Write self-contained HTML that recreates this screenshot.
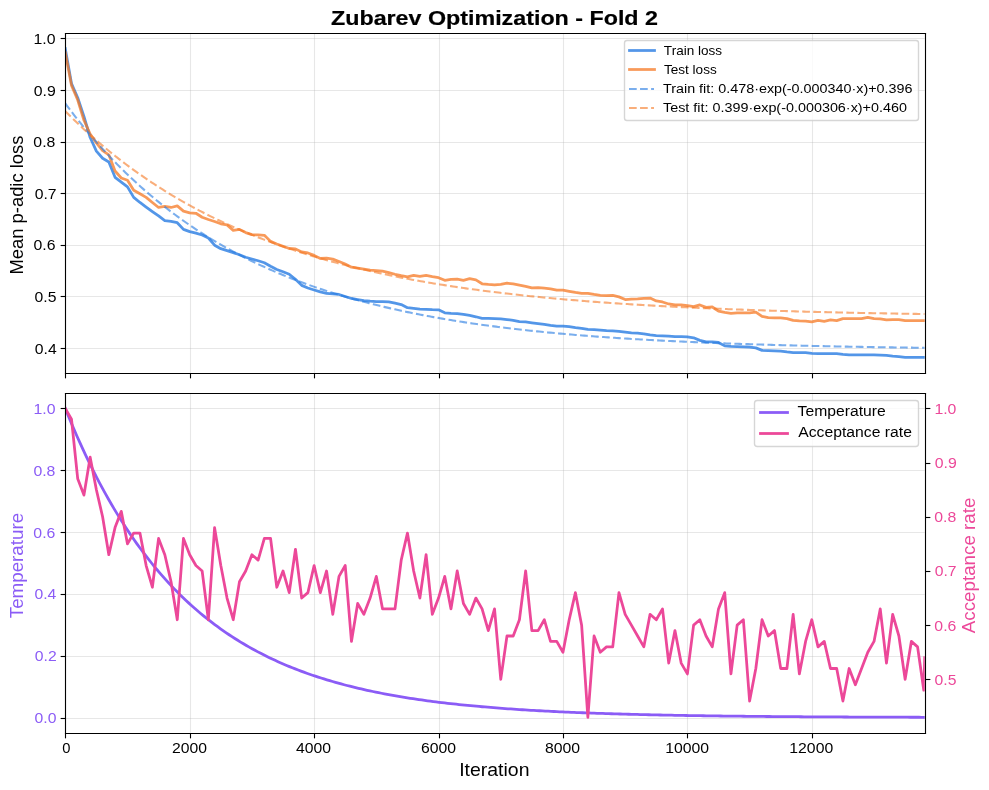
<!DOCTYPE html>
<html><head><meta charset="utf-8"><title>Zubarev Optimization - Fold 2</title>
<style>
html,body{margin:0;padding:0;background:#fff;}
body{width:989px;height:790px;overflow:hidden;}
svg{display:block;will-change:transform;font-family:"Liberation Sans",sans-serif;}
</style></head><body>
<svg width="989" height="790" viewBox="0 0 989 790">
<defs><clipPath id="c1"><rect x="65.278" y="33.333" width="859.444" height="339.764"/></clipPath><clipPath id="c2"><rect x="65.278" y="392.958" width="859.444" height="339.764"/></clipPath></defs>
<rect x="0" y="0" width="989" height="790" fill="#fff"/>
<line x1="65.50" y1="33.33" x2="65.50" y2="373.10" stroke="rgb(176,176,176)" stroke-width="1.11" stroke-opacity="0.300"/>
<line x1="190.50" y1="33.33" x2="190.50" y2="373.10" stroke="rgb(176,176,176)" stroke-width="1.11" stroke-opacity="0.300"/>
<line x1="314.50" y1="33.33" x2="314.50" y2="373.10" stroke="rgb(176,176,176)" stroke-width="1.11" stroke-opacity="0.300"/>
<line x1="439.50" y1="33.33" x2="439.50" y2="373.10" stroke="rgb(176,176,176)" stroke-width="1.11" stroke-opacity="0.300"/>
<line x1="563.50" y1="33.33" x2="563.50" y2="373.10" stroke="rgb(176,176,176)" stroke-width="1.11" stroke-opacity="0.300"/>
<line x1="687.50" y1="33.33" x2="687.50" y2="373.10" stroke="rgb(176,176,176)" stroke-width="1.11" stroke-opacity="0.300"/>
<line x1="812.50" y1="33.33" x2="812.50" y2="373.10" stroke="rgb(176,176,176)" stroke-width="1.11" stroke-opacity="0.300"/>
<line x1="65.28" y1="348.50" x2="924.72" y2="348.50" stroke="rgb(176,176,176)" stroke-width="1.11" stroke-opacity="0.300"/>
<line x1="65.28" y1="296.50" x2="924.72" y2="296.50" stroke="rgb(176,176,176)" stroke-width="1.11" stroke-opacity="0.300"/>
<line x1="65.28" y1="245.50" x2="924.72" y2="245.50" stroke="rgb(176,176,176)" stroke-width="1.11" stroke-opacity="0.300"/>
<line x1="65.28" y1="193.50" x2="924.72" y2="193.50" stroke="rgb(176,176,176)" stroke-width="1.11" stroke-opacity="0.300"/>
<line x1="65.28" y1="142.50" x2="924.72" y2="142.50" stroke="rgb(176,176,176)" stroke-width="1.11" stroke-opacity="0.300"/>
<line x1="65.28" y1="90.50" x2="924.72" y2="90.50" stroke="rgb(176,176,176)" stroke-width="1.11" stroke-opacity="0.300"/>
<line x1="65.28" y1="38.50" x2="924.72" y2="38.50" stroke="rgb(176,176,176)" stroke-width="1.11" stroke-opacity="0.300"/>
<line x1="65.50" y1="392.96" x2="65.50" y2="732.72" stroke="rgb(176,176,176)" stroke-width="1.11" stroke-opacity="0.300"/>
<line x1="190.50" y1="392.96" x2="190.50" y2="732.72" stroke="rgb(176,176,176)" stroke-width="1.11" stroke-opacity="0.300"/>
<line x1="314.50" y1="392.96" x2="314.50" y2="732.72" stroke="rgb(176,176,176)" stroke-width="1.11" stroke-opacity="0.300"/>
<line x1="439.50" y1="392.96" x2="439.50" y2="732.72" stroke="rgb(176,176,176)" stroke-width="1.11" stroke-opacity="0.300"/>
<line x1="563.50" y1="392.96" x2="563.50" y2="732.72" stroke="rgb(176,176,176)" stroke-width="1.11" stroke-opacity="0.300"/>
<line x1="687.50" y1="392.96" x2="687.50" y2="732.72" stroke="rgb(176,176,176)" stroke-width="1.11" stroke-opacity="0.300"/>
<line x1="812.50" y1="392.96" x2="812.50" y2="732.72" stroke="rgb(176,176,176)" stroke-width="1.11" stroke-opacity="0.300"/>
<line x1="65.28" y1="718.50" x2="924.72" y2="718.50" stroke="rgb(176,176,176)" stroke-width="1.11" stroke-opacity="0.300"/>
<line x1="65.28" y1="656.50" x2="924.72" y2="656.50" stroke="rgb(176,176,176)" stroke-width="1.11" stroke-opacity="0.300"/>
<line x1="65.28" y1="594.50" x2="924.72" y2="594.50" stroke="rgb(176,176,176)" stroke-width="1.11" stroke-opacity="0.300"/>
<line x1="65.28" y1="532.50" x2="924.72" y2="532.50" stroke="rgb(176,176,176)" stroke-width="1.11" stroke-opacity="0.300"/>
<line x1="65.28" y1="470.50" x2="924.72" y2="470.50" stroke="rgb(176,176,176)" stroke-width="1.11" stroke-opacity="0.300"/>
<line x1="65.28" y1="408.50" x2="924.72" y2="408.50" stroke="rgb(176,176,176)" stroke-width="1.11" stroke-opacity="0.300"/>
<polyline points="65.28,48.70 71.50,83.50 77.72,97.70 83.94,116.49 90.16,137.49 96.38,151.19 102.60,158.29 108.83,161.99 115.05,177.29 121.27,182.19 127.49,186.89 133.71,197.39 139.93,202.49 146.15,207.08 152.37,211.58 158.59,215.98 164.82,220.68 171.04,221.28 177.26,222.68 183.48,229.38 189.70,231.58 195.92,233.08 202.14,234.98 208.36,237.98 214.58,245.18 220.81,248.68 227.03,250.68 233.25,252.58 239.47,254.78 245.69,257.28 251.91,258.98 258.13,260.78 264.35,262.78 270.57,266.28 276.80,269.48 283.02,271.78 289.24,274.28 295.46,279.28 301.68,285.38 307.90,287.98 314.12,289.98 320.34,291.88 326.56,293.48 332.78,293.88 339.01,294.48 345.23,296.48 351.45,298.48 357.67,299.58 363.89,300.57 370.11,301.17 376.33,301.57 382.55,301.57 388.77,301.97 395.00,303.17 401.22,304.57 407.44,307.67 413.66,308.27 419.88,309.07 426.10,309.27 432.32,309.67 438.54,309.87 444.76,312.87 450.99,313.47 457.21,313.67 463.43,314.47 469.65,315.47 475.87,316.77 482.09,318.37 488.31,318.37 494.53,318.57 500.75,318.77 506.98,319.57 513.20,320.37 519.42,321.57 525.64,321.97 531.86,322.77 538.08,323.57 544.30,324.47 550.52,325.47 556.74,326.07 562.97,326.07 569.19,326.67 575.41,327.67 581.63,328.27 587.85,329.47 594.07,329.67 600.29,330.07 606.51,330.67 612.73,330.87 618.96,331.27 625.18,332.07 631.40,332.87 637.62,333.17 643.84,333.77 650.06,334.97 656.28,335.57 662.50,335.77 668.72,336.17 674.95,336.57 681.17,336.57 687.39,336.97 693.61,337.77 699.83,340.37 706.05,341.87 712.27,341.87 718.49,342.47 724.71,345.87 730.94,346.47 737.16,346.67 743.38,346.87 749.60,347.07 755.82,347.87 762.04,350.37 768.26,350.57 774.48,350.77 780.70,351.17 786.92,351.97 793.15,352.57 799.37,352.57 805.59,352.57 811.81,353.27 818.03,353.57 824.25,353.67 830.47,353.67 836.69,353.67 842.91,354.37 849.14,354.77 855.36,354.97 861.58,354.97 867.80,354.97 874.02,354.97 880.24,355.17 886.46,355.37 892.68,356.17 898.90,356.57 905.13,357.27 911.35,357.27 917.57,357.37 923.79,357.37 924.72,357.37" fill="none" stroke="rgb(40,124,226)" stroke-width="2.778" stroke-opacity="0.800" stroke-linejoin="round" stroke-linecap="square" clip-path="url(#c1)"/>
<polyline points="65.28,52.50 71.50,85.40 77.72,100.00 83.94,120.29 90.16,133.99 96.38,142.99 102.60,150.69 108.83,154.79 115.05,170.99 121.27,177.99 127.49,180.19 133.71,190.29 139.93,193.79 146.15,197.39 152.37,202.49 158.59,207.48 164.82,206.48 171.04,207.48 177.26,205.88 183.48,211.18 189.70,212.88 195.92,213.28 202.14,217.28 208.36,219.48 214.58,221.48 220.81,223.78 227.03,224.98 233.25,230.38 239.47,229.38 245.69,232.58 251.91,234.68 258.13,234.98 264.35,235.28 270.57,241.38 276.80,243.98 283.02,246.28 289.24,248.48 295.46,248.88 301.68,251.98 307.90,252.98 314.12,255.38 320.34,258.48 326.56,258.08 332.78,259.08 339.01,261.48 345.23,264.08 351.45,267.18 357.67,268.18 363.89,269.18 370.11,270.18 376.33,270.58 382.55,271.18 388.77,272.58 395.00,274.28 401.22,275.68 407.44,276.88 413.66,275.28 419.88,276.28 426.10,275.48 432.32,276.68 438.54,277.68 444.76,280.28 450.99,279.28 457.21,279.08 463.43,280.28 469.65,278.68 475.87,279.88 482.09,283.78 488.31,284.38 494.53,284.78 500.75,284.38 506.98,283.18 513.20,283.98 519.42,285.18 525.64,286.38 531.86,287.78 538.08,287.58 544.30,288.18 550.52,288.78 556.74,290.18 562.97,290.18 569.19,291.28 575.41,292.48 581.63,293.28 587.85,293.28 594.07,294.48 600.29,295.28 606.51,295.68 612.73,295.48 618.96,296.88 625.18,299.58 631.40,299.18 637.62,298.88 643.84,298.28 650.06,298.08 656.28,300.97 662.50,301.97 668.72,303.97 674.95,304.97 681.17,304.97 687.39,305.57 693.61,306.57 699.83,304.97 706.05,307.37 712.27,306.97 718.49,311.07 724.71,312.47 730.94,313.27 737.16,312.87 743.38,312.87 749.60,312.87 755.82,312.07 762.04,316.37 768.26,317.57 774.48,317.97 780.70,317.97 786.92,318.57 793.15,320.37 799.37,320.97 805.59,321.17 811.81,321.77 818.03,320.37 824.25,321.27 830.47,319.97 836.69,320.57 842.91,318.57 849.14,318.57 855.36,318.57 861.58,318.57 867.80,317.27 874.02,318.57 880.24,318.87 886.46,319.97 892.68,319.67 898.90,319.67 905.13,320.67 911.35,320.67 917.57,320.67 923.79,320.67 924.72,320.67" fill="none" stroke="rgb(245,120,35)" stroke-width="2.778" stroke-opacity="0.750" stroke-linejoin="round" stroke-linecap="square" clip-path="url(#c1)"/>
<polyline points="65.28,103.42 67.43,106.31 69.59,109.16 71.74,111.98 73.89,114.77 76.05,117.52 78.20,120.24 80.36,122.93 82.51,125.59 84.66,128.22 86.82,130.81 88.97,133.38 91.13,135.91 93.28,138.42 95.43,140.90 97.59,143.35 99.74,145.77 101.90,148.16 104.05,150.52 106.20,152.85 108.36,155.16 110.51,157.44 112.67,159.70 114.82,161.93 116.97,164.13 119.13,166.30 121.28,168.45 123.44,170.58 125.59,172.68 127.74,174.76 129.90,176.81 132.05,178.84 134.21,180.84 136.36,182.82 138.51,184.78 140.67,186.71 142.82,188.62 144.98,190.51 147.13,192.38 149.28,194.23 151.44,196.05 153.59,197.85 155.75,199.63 157.90,201.40 160.05,203.13 162.21,204.85 164.36,206.55 166.52,208.23 168.67,209.89 170.82,211.53 172.98,213.16 175.13,214.76 177.29,216.34 179.44,217.91 181.59,219.45 183.75,220.98 185.90,222.49 188.06,223.99 190.21,225.46 192.36,226.92 194.52,228.36 196.67,229.79 198.83,231.19 200.98,232.58 203.13,233.96 205.29,235.32 207.44,236.66 209.60,237.99 211.75,239.30 213.90,240.60 216.06,241.88 218.21,243.14 220.37,244.40 222.52,245.63 224.67,246.85 226.83,248.06 228.98,249.26 231.14,250.44 233.29,251.60 235.44,252.75 237.60,253.89 239.75,255.02 241.91,256.13 244.06,257.23 246.21,258.32 248.37,259.39 250.52,260.45 252.68,261.50 254.83,262.54 256.98,263.56 259.14,264.57 261.29,265.57 263.45,266.56 265.60,267.54 267.75,268.51 269.91,269.46 272.06,270.40 274.22,271.34 276.37,272.26 278.52,273.17 280.68,274.07 282.83,274.96 284.99,275.84 287.14,276.71 289.29,277.57 291.45,278.41 293.60,279.25 295.76,280.08 297.91,280.90 300.06,281.71 302.22,282.51 304.37,283.30 306.53,284.08 308.68,284.85 310.83,285.62 312.99,286.37 315.14,287.12 317.30,287.85 319.45,288.58 321.60,289.30 323.76,290.01 325.91,290.72 328.07,291.41 330.22,292.10 332.37,292.78 334.53,293.45 336.68,294.11 338.84,294.76 340.99,295.41 343.14,296.05 345.30,296.68 347.45,297.31 349.61,297.93 351.76,298.54 353.91,299.14 356.07,299.73 358.22,300.32 360.38,300.91 362.53,301.48 364.68,302.05 366.84,302.61 368.99,303.17 371.15,303.72 373.30,304.26 375.45,304.79 377.61,305.32 379.76,305.85 381.92,306.37 384.07,306.88 386.22,307.38 388.38,307.88 390.53,308.38 392.69,308.86 394.84,309.35 396.99,309.82 399.15,310.29 401.30,310.76 403.46,311.22 405.61,311.67 407.76,312.12 409.92,312.57 412.07,313.01 414.23,313.44 416.38,313.87 418.53,314.29 420.69,314.71 422.84,315.13 425.00,315.53 427.15,315.94 429.30,316.34 431.46,316.73 433.61,317.12 435.77,317.51 437.92,317.89 440.07,318.27 442.23,318.64 444.38,319.01 446.54,319.37 448.69,319.73 450.84,320.08 453.00,320.44 455.15,320.78 457.31,321.12 459.46,321.46 461.61,321.80 463.77,322.13 465.92,322.46 468.08,322.78 470.23,323.10 472.38,323.41 474.54,323.73 476.69,324.03 478.85,324.34 481.00,324.64 483.15,324.94 485.31,325.23 487.46,325.52 489.62,325.81 491.77,326.09 493.92,326.37 496.08,326.65 498.23,326.93 500.38,327.20 502.54,327.46 504.69,327.73 506.85,327.99 509.00,328.25 511.15,328.50 513.31,328.76 515.46,329.01 517.62,329.25 519.77,329.50 521.92,329.74 524.08,329.98 526.23,330.21 528.39,330.44 530.54,330.67 532.69,330.90 534.85,331.12 537.00,331.35 539.16,331.57 541.31,331.78 543.46,332.00 545.62,332.21 547.77,332.42 549.93,332.62 552.08,332.83 554.23,333.03 556.39,333.23 558.54,333.43 560.70,333.62 562.85,333.81 565.00,334.00 567.16,334.19 569.31,334.38 571.47,334.56 573.62,334.74 575.77,334.92 577.93,335.10 580.08,335.27 582.24,335.45 584.39,335.62 586.54,335.79 588.70,335.95 590.85,336.12 593.01,336.28 595.16,336.44 597.31,336.60 599.47,336.76 601.62,336.92 603.78,337.07 605.93,337.22 608.08,337.37 610.24,337.52 612.39,337.67 614.55,337.81 616.70,337.96 618.85,338.10 621.01,338.24 623.16,338.38 625.32,338.51 627.47,338.65 629.62,338.78 631.78,338.92 633.93,339.05 636.09,339.18 638.24,339.30 640.39,339.43 642.55,339.55 644.70,339.68 646.86,339.80 649.01,339.92 651.16,340.04 653.32,340.15 655.47,340.27 657.63,340.39 659.78,340.50 661.93,340.61 664.09,340.72 666.24,340.83 668.40,340.94 670.55,341.05 672.70,341.15 674.86,341.26 677.01,341.36 679.17,341.46 681.32,341.56 683.47,341.66 685.63,341.76 687.78,341.86 689.94,341.95 692.09,342.05 694.24,342.14 696.40,342.24 698.55,342.33 700.71,342.42 702.86,342.51 705.01,342.60 707.17,342.68 709.32,342.77 711.48,342.85 713.63,342.94 715.78,343.02 717.94,343.11 720.09,343.19 722.25,343.27 724.40,343.35 726.55,343.43 728.71,343.50 730.86,343.58 733.02,343.66 735.17,343.73 737.32,343.81 739.48,343.88 741.63,343.95 743.79,344.02 745.94,344.09 748.09,344.16 750.25,344.23 752.40,344.30 754.56,344.37 756.71,344.44 758.86,344.50 761.02,344.57 763.17,344.63 765.33,344.69 767.48,344.76 769.63,344.82 771.79,344.88 773.94,344.94 776.10,345.00 778.25,345.06 780.40,345.12 782.56,345.18 784.71,345.24 786.87,345.29 789.02,345.35 791.17,345.40 793.33,345.46 795.48,345.51 797.64,345.56 799.79,345.62 801.94,345.67 804.10,345.72 806.25,345.77 808.41,345.82 810.56,345.87 812.71,345.92 814.87,345.97 817.02,346.02 819.18,346.07 821.33,346.11 823.48,346.16 825.64,346.20 827.79,346.25 829.95,346.29 832.10,346.34 834.25,346.38 836.41,346.43 838.56,346.47 840.72,346.51 842.87,346.55 845.02,346.59 847.18,346.63 849.33,346.67 851.49,346.71 853.64,346.75 855.79,346.79 857.95,346.83 860.10,346.87 862.26,346.91 864.41,346.94 866.56,346.98 868.72,347.02 870.87,347.05 873.03,347.09 875.18,347.12 877.33,347.16 879.49,347.19 881.64,347.22 883.80,347.26 885.95,347.29 888.10,347.32 890.26,347.35 892.41,347.39 894.57,347.42 896.72,347.45 898.87,347.48 901.03,347.51 903.18,347.54 905.34,347.57 907.49,347.60 909.64,347.63 911.80,347.66 913.95,347.68 916.11,347.71 918.26,347.74 920.41,347.77 922.57,347.79 924.72,347.82" fill="none" stroke="rgb(40,124,226)" stroke-width="2.083" stroke-opacity="0.620" stroke-linejoin="round" stroke-linecap="butt" clip-path="url(#c1)" stroke-dasharray="7.708 3.333"/>
<polyline points="65.28,111.16 67.43,113.33 69.59,115.48 71.74,117.60 73.89,119.70 76.05,121.78 78.20,123.84 80.36,125.88 82.51,127.89 84.66,129.89 86.82,131.86 88.97,133.81 91.13,135.74 93.28,137.65 95.43,139.54 97.59,141.41 99.74,143.26 101.90,145.10 104.05,146.91 106.20,148.70 108.36,150.48 110.51,152.23 112.67,153.97 114.82,155.69 116.97,157.39 119.13,159.07 121.28,160.73 123.44,162.38 125.59,164.01 127.74,165.62 129.90,167.22 132.05,168.80 134.21,170.36 136.36,171.91 138.51,173.44 140.67,174.95 142.82,176.45 144.98,177.93 147.13,179.40 149.28,180.85 151.44,182.28 153.59,183.70 155.75,185.11 157.90,186.50 160.05,187.87 162.21,189.24 164.36,190.58 166.52,191.92 168.67,193.23 170.82,194.54 172.98,195.83 175.13,197.11 177.29,198.37 179.44,199.62 181.59,200.86 183.75,202.08 185.90,203.30 188.06,204.50 190.21,205.68 192.36,206.85 194.52,208.02 196.67,209.17 198.83,210.30 200.98,211.43 203.13,212.54 205.29,213.64 207.44,214.73 209.60,215.81 211.75,216.88 213.90,217.93 216.06,218.98 218.21,220.01 220.37,221.03 222.52,222.05 224.67,223.05 226.83,224.04 228.98,225.02 231.14,225.99 233.29,226.95 235.44,227.90 237.60,228.84 239.75,229.77 241.91,230.69 244.06,231.60 246.21,232.50 248.37,233.39 250.52,234.27 252.68,235.14 254.83,236.00 256.98,236.86 259.14,237.70 261.29,238.54 263.45,239.37 265.60,240.19 267.75,241.00 269.91,241.80 272.06,242.59 274.22,243.38 276.37,244.15 278.52,244.92 280.68,245.68 282.83,246.43 284.99,247.18 287.14,247.91 289.29,248.64 291.45,249.36 293.60,250.08 295.76,250.78 297.91,251.48 300.06,252.17 302.22,252.85 304.37,253.53 306.53,254.20 308.68,254.86 310.83,255.52 312.99,256.17 315.14,256.81 317.30,257.44 319.45,258.07 321.60,258.69 323.76,259.31 325.91,259.92 328.07,260.52 330.22,261.11 332.37,261.70 334.53,262.29 336.68,262.86 338.84,263.44 340.99,264.00 343.14,264.56 345.30,265.11 347.45,265.66 349.61,266.20 351.76,266.74 353.91,267.27 356.07,267.79 358.22,268.31 360.38,268.82 362.53,269.33 364.68,269.84 366.84,270.33 368.99,270.83 371.15,271.31 373.30,271.79 375.45,272.27 377.61,272.74 379.76,273.21 381.92,273.67 384.07,274.13 386.22,274.58 388.38,275.03 390.53,275.47 392.69,275.91 394.84,276.34 396.99,276.77 399.15,277.20 401.30,277.62 403.46,278.03 405.61,278.44 407.76,278.85 409.92,279.25 412.07,279.65 414.23,280.05 416.38,280.44 418.53,280.82 420.69,281.20 422.84,281.58 425.00,281.95 427.15,282.32 429.30,282.69 431.46,283.05 433.61,283.41 435.77,283.77 437.92,284.12 440.07,284.46 442.23,284.81 444.38,285.15 446.54,285.48 448.69,285.82 450.84,286.14 453.00,286.47 455.15,286.79 457.31,287.11 459.46,287.43 461.61,287.74 463.77,288.05 465.92,288.35 468.08,288.66 470.23,288.96 472.38,289.25 474.54,289.54 476.69,289.83 478.85,290.12 481.00,290.40 483.15,290.69 485.31,290.96 487.46,291.24 489.62,291.51 491.77,291.78 493.92,292.05 496.08,292.31 498.23,292.57 500.38,292.83 502.54,293.08 504.69,293.34 506.85,293.59 509.00,293.83 511.15,294.08 513.31,294.32 515.46,294.56 517.62,294.80 519.77,295.03 521.92,295.26 524.08,295.49 526.23,295.72 528.39,295.94 530.54,296.17 532.69,296.39 534.85,296.60 537.00,296.82 539.16,297.03 541.31,297.24 543.46,297.45 545.62,297.66 547.77,297.86 549.93,298.07 552.08,298.27 554.23,298.46 556.39,298.66 558.54,298.85 560.70,299.04 562.85,299.23 565.00,299.42 567.16,299.61 569.31,299.79 571.47,299.97 573.62,300.15 575.77,300.33 577.93,300.51 580.08,300.68 582.24,300.85 584.39,301.03 586.54,301.19 588.70,301.36 590.85,301.53 593.01,301.69 595.16,301.85 597.31,302.01 599.47,302.17 601.62,302.33 603.78,302.48 605.93,302.64 608.08,302.79 610.24,302.94 612.39,303.09 614.55,303.23 616.70,303.38 618.85,303.52 621.01,303.67 623.16,303.81 625.32,303.95 627.47,304.08 629.62,304.22 631.78,304.36 633.93,304.49 636.09,304.62 638.24,304.75 640.39,304.88 642.55,305.01 644.70,305.14 646.86,305.26 649.01,305.39 651.16,305.51 653.32,305.63 655.47,305.75 657.63,305.87 659.78,305.99 661.93,306.11 664.09,306.22 666.24,306.34 668.40,306.45 670.55,306.56 672.70,306.67 674.86,306.78 677.01,306.89 679.17,306.99 681.32,307.10 683.47,307.21 685.63,307.31 687.78,307.41 689.94,307.51 692.09,307.61 694.24,307.71 696.40,307.81 698.55,307.91 700.71,308.01 702.86,308.10 705.01,308.19 707.17,308.29 709.32,308.38 711.48,308.47 713.63,308.56 715.78,308.65 717.94,308.74 720.09,308.83 722.25,308.91 724.40,309.00 726.55,309.08 728.71,309.17 730.86,309.25 733.02,309.33 735.17,309.42 737.32,309.50 739.48,309.58 741.63,309.65 743.79,309.73 745.94,309.81 748.09,309.89 750.25,309.96 752.40,310.04 754.56,310.11 756.71,310.18 758.86,310.25 761.02,310.33 763.17,310.40 765.33,310.47 767.48,310.54 769.63,310.61 771.79,310.67 773.94,310.74 776.10,310.81 778.25,310.87 780.40,310.94 782.56,311.00 784.71,311.07 786.87,311.13 789.02,311.19 791.17,311.25 793.33,311.31 795.48,311.37 797.64,311.43 799.79,311.49 801.94,311.55 804.10,311.61 806.25,311.67 808.41,311.72 810.56,311.78 812.71,311.84 814.87,311.89 817.02,311.94 819.18,312.00 821.33,312.05 823.48,312.10 825.64,312.16 827.79,312.21 829.95,312.26 832.10,312.31 834.25,312.36 836.41,312.41 838.56,312.46 840.72,312.51 842.87,312.55 845.02,312.60 847.18,312.65 849.33,312.69 851.49,312.74 853.64,312.79 855.79,312.83 857.95,312.87 860.10,312.92 862.26,312.96 864.41,313.01 866.56,313.05 868.72,313.09 870.87,313.13 873.03,313.17 875.18,313.21 877.33,313.25 879.49,313.29 881.64,313.33 883.80,313.37 885.95,313.41 888.10,313.45 890.26,313.49 892.41,313.53 894.57,313.56 896.72,313.60 898.87,313.64 901.03,313.67 903.18,313.71 905.34,313.74 907.49,313.78 909.64,313.81 911.80,313.85 913.95,313.88 916.11,313.91 918.26,313.95 920.41,313.98 922.57,314.01 924.72,314.04" fill="none" stroke="rgb(245,120,35)" stroke-width="2.083" stroke-opacity="0.600" stroke-linejoin="round" stroke-linecap="butt" clip-path="url(#c1)" stroke-dasharray="7.708 3.333"/>
<polyline points="65.28,408.40 68.15,415.46 71.03,422.37 73.90,429.11 76.78,435.70 79.65,442.14 82.52,448.43 85.40,454.58 88.27,460.59 91.15,466.46 94.02,472.19 96.90,477.80 99.77,483.28 102.64,488.63 105.52,493.86 108.39,498.97 111.27,503.96 114.14,508.84 117.02,513.61 119.89,518.27 122.77,522.82 125.64,527.27 128.51,531.62 131.39,535.87 134.26,540.02 137.14,544.08 140.01,548.04 142.89,551.91 145.76,555.70 148.64,559.39 151.51,563.01 154.38,566.54 157.26,569.99 160.13,573.36 163.01,576.66 165.88,579.87 168.76,583.02 171.63,586.09 174.50,589.10 177.38,592.03 180.25,594.90 183.13,597.70 186.00,600.44 188.88,603.12 191.75,605.73 194.63,608.29 197.50,610.78 200.37,613.22 203.25,615.61 206.12,617.94 209.00,620.21 211.87,622.44 214.75,624.61 217.62,626.74 220.50,628.81 223.37,630.84 226.24,632.82 229.12,634.76 231.99,636.65 234.87,638.50 237.74,640.30 240.62,642.07 243.49,643.79 246.36,645.48 249.24,647.13 252.11,648.74 254.99,650.31 257.86,651.85 260.74,653.35 263.61,654.82 266.49,656.25 269.36,657.65 272.23,659.02 275.11,660.36 277.98,661.66 280.86,662.94 283.73,664.19 286.61,665.41 289.48,666.60 292.36,667.77 295.23,668.90 298.10,670.02 300.98,671.10 303.85,672.17 306.73,673.20 309.60,674.22 312.48,675.21 315.35,676.18 318.22,677.12 321.10,678.05 323.97,678.95 326.85,679.83 329.72,680.69 332.60,681.54 335.47,682.36 338.35,683.16 341.22,683.95 344.09,684.72 346.97,685.47 349.84,686.20 352.72,686.92 355.59,687.62 358.47,688.31 361.34,688.97 364.21,689.63 367.09,690.27 369.96,690.89 372.84,691.50 375.71,692.10 378.59,692.68 381.46,693.25 384.34,693.80 387.21,694.35 390.08,694.88 392.96,695.40 395.83,695.90 398.71,696.40 401.58,696.88 404.46,697.36 407.33,697.82 410.21,698.27 413.08,698.71 415.95,699.14 418.83,699.56 421.70,699.98 424.58,700.38 427.45,700.77 430.33,701.15 433.20,701.53 436.07,701.90 438.95,702.26 441.82,702.61 444.70,702.95 447.57,703.28 450.45,703.61 453.32,703.93 456.20,704.24 459.07,704.55 461.94,704.84 464.82,705.13 467.69,705.42 470.57,705.70 473.44,705.97 476.32,706.23 479.19,706.49 482.07,706.75 484.94,706.99 487.81,707.24 490.69,707.47 493.56,707.70 496.44,707.93 499.31,708.15 502.19,708.37 505.06,708.58 507.93,708.78 510.81,708.98 513.68,709.18 516.56,709.37 519.43,709.56 522.31,709.74 525.18,709.92 528.06,710.10 530.93,710.27 533.80,710.44 536.68,710.60 539.55,710.76 542.43,710.91 545.30,711.07 548.18,711.22 551.05,711.36 553.93,711.50 556.80,711.64 559.67,711.78 562.55,711.91 565.42,712.04 568.30,712.17 571.17,712.29 574.05,712.41 576.92,712.53 579.79,712.65 582.67,712.76 585.54,712.87 588.42,712.98 591.29,713.08 594.17,713.18 597.04,713.29 599.92,713.38 602.79,713.48 605.66,713.57 608.54,713.67 611.41,713.75 614.29,713.84 617.16,713.93 620.04,714.01 622.91,714.09 625.79,714.17 628.66,714.25 631.53,714.33 634.41,714.40 637.28,714.47 640.16,714.55 643.03,714.62 645.91,714.68 648.78,714.75 651.65,714.81 654.53,714.88 657.40,714.94 660.28,715.00 663.15,715.06 666.03,715.12 668.90,715.17 671.78,715.23 674.65,715.28 677.52,715.33 680.40,715.39 683.27,715.44 686.15,715.49 689.02,715.53 691.90,715.58 694.77,715.63 697.64,715.67 700.52,715.71 703.39,715.76 706.27,715.80 709.14,715.84 712.02,715.88 714.89,715.92 717.77,715.96 720.64,715.99 723.51,716.03 726.39,716.07 729.26,716.10 732.14,716.14 735.01,716.17 737.89,716.20 740.76,716.23 743.64,716.26 746.51,716.29 749.38,716.32 752.26,716.35 755.13,716.38 758.01,716.41 760.88,716.43 763.76,716.46 766.63,716.49 769.50,716.51 772.38,716.54 775.25,716.56 778.13,716.58 781.00,716.61 783.88,716.63 786.75,716.65 789.63,716.67 792.50,716.69 795.37,716.71 798.25,716.73 801.12,716.75 804.00,716.77 806.87,716.79 809.75,716.81 812.62,716.83 815.50,716.84 818.37,716.86 821.24,716.88 824.12,716.89 826.99,716.91 829.87,716.93 832.74,716.94 835.62,716.96 838.49,716.97 841.36,716.98 844.24,717.00 847.11,717.01 849.99,717.02 852.86,717.04 855.74,717.05 858.61,717.06 861.49,717.07 864.36,717.09 867.23,717.10 870.11,717.11 872.98,717.12 875.86,717.13 878.73,717.14 881.61,717.15 884.48,717.16 887.36,717.17 890.23,717.18 893.10,717.19 895.98,717.20 898.85,717.21 901.73,717.22 904.60,717.22 907.48,717.23 910.35,717.24 913.22,717.25 916.10,717.26 918.97,717.26 921.85,717.27 924.72,717.28" fill="none" stroke="#8B5CF6" stroke-width="2.778" stroke-opacity="1.000" stroke-linejoin="round" stroke-linecap="square" clip-path="url(#c2)"/>
<polyline points="65.28,408.40 71.50,419.24 77.72,478.85 83.94,495.10 90.16,457.17 96.38,489.69 102.60,516.78 108.83,554.71 115.05,527.62 121.27,511.36 127.49,543.87 133.71,533.04 139.93,533.04 146.15,565.55 152.37,587.23 158.59,538.46 164.82,554.71 171.04,581.81 177.26,619.74 183.48,538.46 189.70,554.71 195.92,565.55 202.14,570.97 208.36,619.74 214.58,527.62 220.81,565.55 227.03,598.06 233.25,619.74 239.47,581.81 245.69,570.97 251.91,554.71 258.13,560.13 264.35,538.46 270.57,538.46 276.80,587.23 283.02,570.97 289.24,592.64 295.46,549.29 301.68,598.06 307.90,592.64 314.12,565.55 320.34,592.64 326.56,570.97 332.78,614.32 339.01,576.39 345.23,565.55 351.45,641.41 357.67,603.48 363.89,614.32 370.11,598.06 376.33,576.39 382.55,608.90 388.77,608.90 395.00,608.90 401.22,560.13 407.44,533.04 413.66,570.97 419.88,598.06 426.10,554.71 432.32,614.32 438.54,598.06 444.76,576.39 450.99,608.90 457.21,570.97 463.43,603.48 469.65,614.32 475.87,598.06 482.09,608.90 488.31,630.58 494.53,608.90 500.75,679.35 506.98,636.00 513.20,636.00 519.42,619.74 525.64,570.97 531.86,630.58 538.08,630.58 544.30,619.74 550.52,641.41 556.74,641.41 562.97,652.25 569.19,619.74 575.41,592.64 581.63,625.16 587.85,717.28 594.07,636.00 600.29,652.25 606.51,646.83 612.73,646.83 618.96,592.64 625.18,614.32 631.40,625.16 637.62,636.00 643.84,646.83 650.06,614.32 656.28,619.74 662.50,608.90 668.72,663.09 674.95,630.58 681.17,663.09 687.39,673.93 693.61,625.16 699.83,619.74 706.05,636.00 712.27,646.83 718.49,608.90 724.71,592.64 730.94,673.93 737.16,625.16 743.38,619.74 749.60,701.02 755.82,668.51 762.04,619.74 768.26,636.00 774.48,630.58 780.70,668.51 786.92,668.51 793.15,614.32 799.37,673.93 805.59,641.41 811.81,619.74 818.03,646.83 824.25,641.41 830.47,668.51 836.69,668.51 842.91,701.02 849.14,668.51 855.36,684.77 861.58,668.51 867.80,652.25 874.02,641.41 880.24,608.90 886.46,663.09 892.68,614.32 898.90,636.00 905.13,679.35 911.35,641.41 917.57,646.83 923.79,690.18 924.72,657.67" fill="none" stroke="#EC4899" stroke-width="2.778" stroke-opacity="1.000" stroke-linejoin="round" stroke-linecap="square" clip-path="url(#c2)"/>
<line x1="65.50" y1="32.94" x2="65.50" y2="374.06" stroke="#000" stroke-width="1.11"/>
<line x1="925.50" y1="32.94" x2="925.50" y2="374.06" stroke="#000" stroke-width="1.11"/>
<line x1="64.94" y1="33.50" x2="926.06" y2="33.50" stroke="#000" stroke-width="1.11"/>
<line x1="64.94" y1="373.50" x2="926.06" y2="373.50" stroke="#000" stroke-width="1.11"/>
<line x1="65.50" y1="392.94" x2="65.50" y2="734.06" stroke="#000" stroke-width="1.11"/>
<line x1="925.50" y1="392.94" x2="925.50" y2="734.06" stroke="#000" stroke-width="1.11"/>
<line x1="64.94" y1="393.50" x2="926.06" y2="393.50" stroke="#000" stroke-width="1.11"/>
<line x1="64.94" y1="733.50" x2="926.06" y2="733.50" stroke="#000" stroke-width="1.11"/>
<line x1="65.50" y1="373.50" x2="65.50" y2="378.36" stroke="#000" stroke-width="1.11"/>
<line x1="190.50" y1="373.50" x2="190.50" y2="378.36" stroke="#000" stroke-width="1.11"/>
<line x1="314.50" y1="373.50" x2="314.50" y2="378.36" stroke="#000" stroke-width="1.11"/>
<line x1="439.50" y1="373.50" x2="439.50" y2="378.36" stroke="#000" stroke-width="1.11"/>
<line x1="563.50" y1="373.50" x2="563.50" y2="378.36" stroke="#000" stroke-width="1.11"/>
<line x1="687.50" y1="373.50" x2="687.50" y2="378.36" stroke="#000" stroke-width="1.11"/>
<line x1="812.50" y1="373.50" x2="812.50" y2="378.36" stroke="#000" stroke-width="1.11"/>
<line x1="65.50" y1="733.50" x2="65.50" y2="738.36" stroke="#000" stroke-width="1.11"/>
<line x1="190.50" y1="733.50" x2="190.50" y2="738.36" stroke="#000" stroke-width="1.11"/>
<line x1="314.50" y1="733.50" x2="314.50" y2="738.36" stroke="#000" stroke-width="1.11"/>
<line x1="439.50" y1="733.50" x2="439.50" y2="738.36" stroke="#000" stroke-width="1.11"/>
<line x1="563.50" y1="733.50" x2="563.50" y2="738.36" stroke="#000" stroke-width="1.11"/>
<line x1="687.50" y1="733.50" x2="687.50" y2="738.36" stroke="#000" stroke-width="1.11"/>
<line x1="812.50" y1="733.50" x2="812.50" y2="738.36" stroke="#000" stroke-width="1.11"/>
<line x1="60.64" y1="348.50" x2="65.50" y2="348.50" stroke="#000" stroke-width="1.11"/>
<line x1="60.64" y1="296.50" x2="65.50" y2="296.50" stroke="#000" stroke-width="1.11"/>
<line x1="60.64" y1="245.50" x2="65.50" y2="245.50" stroke="#000" stroke-width="1.11"/>
<line x1="60.64" y1="193.50" x2="65.50" y2="193.50" stroke="#000" stroke-width="1.11"/>
<line x1="60.64" y1="142.50" x2="65.50" y2="142.50" stroke="#000" stroke-width="1.11"/>
<line x1="60.64" y1="90.50" x2="65.50" y2="90.50" stroke="#000" stroke-width="1.11"/>
<line x1="60.64" y1="38.50" x2="65.50" y2="38.50" stroke="#000" stroke-width="1.11"/>
<line x1="60.64" y1="718.50" x2="65.50" y2="718.50" stroke="#000" stroke-width="1.11"/>
<line x1="60.64" y1="656.50" x2="65.50" y2="656.50" stroke="#000" stroke-width="1.11"/>
<line x1="60.64" y1="594.50" x2="65.50" y2="594.50" stroke="#000" stroke-width="1.11"/>
<line x1="60.64" y1="532.50" x2="65.50" y2="532.50" stroke="#000" stroke-width="1.11"/>
<line x1="60.64" y1="470.50" x2="65.50" y2="470.50" stroke="#000" stroke-width="1.11"/>
<line x1="60.64" y1="408.50" x2="65.50" y2="408.50" stroke="#000" stroke-width="1.11"/>
<line x1="925.50" y1="679.50" x2="930.36" y2="679.50" stroke="#000" stroke-width="1.11"/>
<line x1="925.50" y1="625.50" x2="930.36" y2="625.50" stroke="#000" stroke-width="1.11"/>
<line x1="925.50" y1="571.50" x2="930.36" y2="571.50" stroke="#000" stroke-width="1.11"/>
<line x1="925.50" y1="517.50" x2="930.36" y2="517.50" stroke="#000" stroke-width="1.11"/>
<line x1="925.50" y1="463.50" x2="930.36" y2="463.50" stroke="#000" stroke-width="1.11"/>
<line x1="925.50" y1="408.50" x2="930.36" y2="408.50" stroke="#000" stroke-width="1.11"/>
<rect x="624.50" y="40.50" width="294.00" height="80.00" rx="2.50" ry="2.50" fill="#fff" fill-opacity="0.8" stroke="rgb(204,204,204)" stroke-opacity="0.8" stroke-width="1.389"/>
<rect x="754.50" y="400.50" width="164.00" height="46.00" rx="2.78" ry="2.78" fill="#fff" fill-opacity="0.8" stroke="rgb(204,204,204)" stroke-opacity="0.8" stroke-width="1.389"/>
<line x1="629.50" y1="50.50" x2="654.50" y2="50.50" stroke="rgb(40,124,226)" stroke-width="2.778" stroke-opacity="0.800" stroke-linecap="square"/>
<line x1="629.50" y1="69.50" x2="654.50" y2="69.50" stroke="rgb(245,120,35)" stroke-width="2.778" stroke-opacity="0.750" stroke-linecap="square"/>
<line x1="629.00" y1="89.00" x2="654.00" y2="89.00" stroke="rgb(40,124,226)" stroke-width="2.083" stroke-opacity="0.620" stroke-linecap="butt" stroke-dasharray="7.708 3.333"/>
<line x1="629.00" y1="108.00" x2="654.00" y2="108.00" stroke="rgb(245,120,35)" stroke-width="2.083" stroke-opacity="0.600" stroke-linecap="butt" stroke-dasharray="7.708 3.333"/>
<line x1="760.50" y1="412.50" x2="787.50" y2="412.50" stroke="#8B5CF6" stroke-width="2.778" stroke-opacity="1.000" stroke-linecap="square"/>
<line x1="760.50" y1="433.50" x2="787.50" y2="433.50" stroke="#EC4899" stroke-width="2.778" stroke-opacity="1.000" stroke-linecap="square"/>
<text x="0" y="0" transform="translate(23.20 205.04) rotate(-90)" font-size="17.67" fill="#000000" text-anchor="middle" textLength="138.75" lengthAdjust="spacingAndGlyphs">Mean p-adic loss</text>
<text x="56.72" y="353.73" font-size="14.72" font-weight="normal" fill="#000000" text-anchor="end" textLength="21.88" lengthAdjust="spacingAndGlyphs">0.4</text>
<text x="56.49" y="301.55" font-size="15.00" font-weight="normal" fill="#000000" text-anchor="end" textLength="21.88" lengthAdjust="spacingAndGlyphs">0.5</text>
<text x="55.51" y="249.99" font-size="14.44" font-weight="normal" fill="#000000" text-anchor="end" textLength="22.00" lengthAdjust="spacingAndGlyphs">0.6</text>
<text x="56.59" y="198.92" font-size="14.72" font-weight="normal" fill="#000000" text-anchor="end" textLength="21.88" lengthAdjust="spacingAndGlyphs">0.7</text>
<text x="55.38" y="146.64" font-size="14.72" font-weight="normal" fill="#000000" text-anchor="end" textLength="22.00" lengthAdjust="spacingAndGlyphs">0.8</text>
<text x="55.77" y="95.87" font-size="14.44" font-weight="normal" fill="#000000" text-anchor="end" textLength="22.00" lengthAdjust="spacingAndGlyphs">0.9</text>
<text x="55.48" y="43.77" font-size="14.17" font-weight="normal" fill="#000000" text-anchor="end" textLength="22.00" lengthAdjust="spacingAndGlyphs">1.0</text>
<text x="494.50" y="24.88" font-size="20.61" font-weight="bold" fill="#000000" text-anchor="middle" textLength="327.00" lengthAdjust="spacingAndGlyphs" stroke="#000000" stroke-width="0.20">Zubarev Optimization - Fold 2</text>
<text x="663.86" y="55.40" font-size="12.25" font-weight="normal" fill="#000000" text-anchor="start" textLength="58.25" lengthAdjust="spacingAndGlyphs">Train loss</text>
<text x="663.90" y="73.70" font-size="12.25" font-weight="normal" fill="#000000" text-anchor="start" textLength="52.88" lengthAdjust="spacingAndGlyphs">Test loss</text>
<text x="662.97" y="93.38" font-size="12.50" font-weight="normal" fill="#000000" text-anchor="start" textLength="249.50" lengthAdjust="spacingAndGlyphs">Train fit: 0.478·exp(-0.000340·x)+0.396</text>
<text x="662.97" y="111.64" font-size="13.25" font-weight="normal" fill="#000000" text-anchor="start" textLength="244.00" lengthAdjust="spacingAndGlyphs">Test fit: 0.399·exp(-0.000306·x)+0.460</text>
<text x="494.34" y="775.61" font-size="17.67" font-weight="normal" fill="#000000" text-anchor="middle" textLength="70.38" lengthAdjust="spacingAndGlyphs">Iteration</text>
<text x="66.31" y="752.53" font-size="14.72" font-weight="normal" fill="#000000" text-anchor="middle">0</text>
<text x="189.63" y="752.53" font-size="15.00" font-weight="normal" fill="#000000" text-anchor="middle" textLength="35.00" lengthAdjust="spacingAndGlyphs">2000</text>
<text x="313.49" y="752.83" font-size="14.17" font-weight="normal" fill="#000000" text-anchor="middle" textLength="35.00" lengthAdjust="spacingAndGlyphs">4000</text>
<text x="438.51" y="752.56" font-size="14.44" font-weight="normal" fill="#000000" text-anchor="middle" textLength="35.12" lengthAdjust="spacingAndGlyphs">6000</text>
<text x="562.59" y="752.97" font-size="13.89" font-weight="normal" fill="#000000" text-anchor="middle" textLength="35.12" lengthAdjust="spacingAndGlyphs">8000</text>
<text x="687.13" y="752.91" font-size="13.89" font-weight="normal" fill="#000000" text-anchor="middle" textLength="43.88" lengthAdjust="spacingAndGlyphs">10000</text>
<text x="811.26" y="752.95" font-size="14.17" font-weight="normal" fill="#000000" text-anchor="middle" textLength="43.88" lengthAdjust="spacingAndGlyphs">12000</text>
<text x="0" y="0" transform="translate(23.23 565.54) rotate(-90)" font-size="17.67" fill="#8b5cf6" text-anchor="middle" textLength="105.38" lengthAdjust="spacingAndGlyphs">Temperature</text>
<text x="56.45" y="722.66" font-size="15.00" font-weight="normal" fill="#8b5cf6" text-anchor="end" textLength="21.88" lengthAdjust="spacingAndGlyphs">0.0</text>
<text x="56.70" y="660.91" font-size="15.00" font-weight="normal" fill="#8b5cf6" text-anchor="end" textLength="21.88" lengthAdjust="spacingAndGlyphs">0.2</text>
<text x="56.30" y="599.16" font-size="15.00" font-weight="normal" fill="#8b5cf6" text-anchor="end" textLength="21.88" lengthAdjust="spacingAndGlyphs">0.4</text>
<text x="55.34" y="537.76" font-size="14.72" font-weight="normal" fill="#8b5cf6" text-anchor="end" textLength="22.00" lengthAdjust="spacingAndGlyphs">0.6</text>
<text x="55.40" y="475.76" font-size="14.72" font-weight="normal" fill="#8b5cf6" text-anchor="end" textLength="22.00" lengthAdjust="spacingAndGlyphs">0.8</text>
<text x="55.46" y="413.81" font-size="14.17" font-weight="normal" fill="#8b5cf6" text-anchor="end" textLength="22.00" lengthAdjust="spacingAndGlyphs">1.0</text>
<text x="797.58" y="415.95" font-size="13.89" font-weight="normal" fill="#000000" text-anchor="start" textLength="88.12" lengthAdjust="spacingAndGlyphs">Temperature</text>
<text x="798.28" y="436.78" font-size="13.89" font-weight="normal" fill="#000000" text-anchor="start" textLength="113.62" lengthAdjust="spacingAndGlyphs">Acceptance rate</text>
<text x="0" y="0" transform="translate(974.76 565.40) rotate(-90)" font-size="17.67" fill="#ec4899" text-anchor="middle" textLength="135.62" lengthAdjust="spacingAndGlyphs">Acceptance rate</text>
<text x="934.54" y="684.54" font-size="14.72" font-weight="normal" fill="#ec4899" text-anchor="start" textLength="21.88" lengthAdjust="spacingAndGlyphs">0.5</text>
<text x="934.33" y="630.80" font-size="14.72" font-weight="normal" fill="#ec4899" text-anchor="start" textLength="22.00" lengthAdjust="spacingAndGlyphs">0.6</text>
<text x="934.70" y="575.62" font-size="15.00" font-weight="normal" fill="#ec4899" text-anchor="start" textLength="21.88" lengthAdjust="spacingAndGlyphs">0.7</text>
<text x="934.32" y="522.25" font-size="14.72" font-weight="normal" fill="#ec4899" text-anchor="start" textLength="22.00" lengthAdjust="spacingAndGlyphs">0.8</text>
<text x="934.78" y="467.91" font-size="15.00" font-weight="normal" fill="#ec4899" text-anchor="start" textLength="22.00" lengthAdjust="spacingAndGlyphs">0.9</text>
<text x="934.41" y="413.74" font-size="14.17" font-weight="normal" fill="#ec4899" text-anchor="start" textLength="22.00" lengthAdjust="spacingAndGlyphs">1.0</text>
</svg>
</body></html>
